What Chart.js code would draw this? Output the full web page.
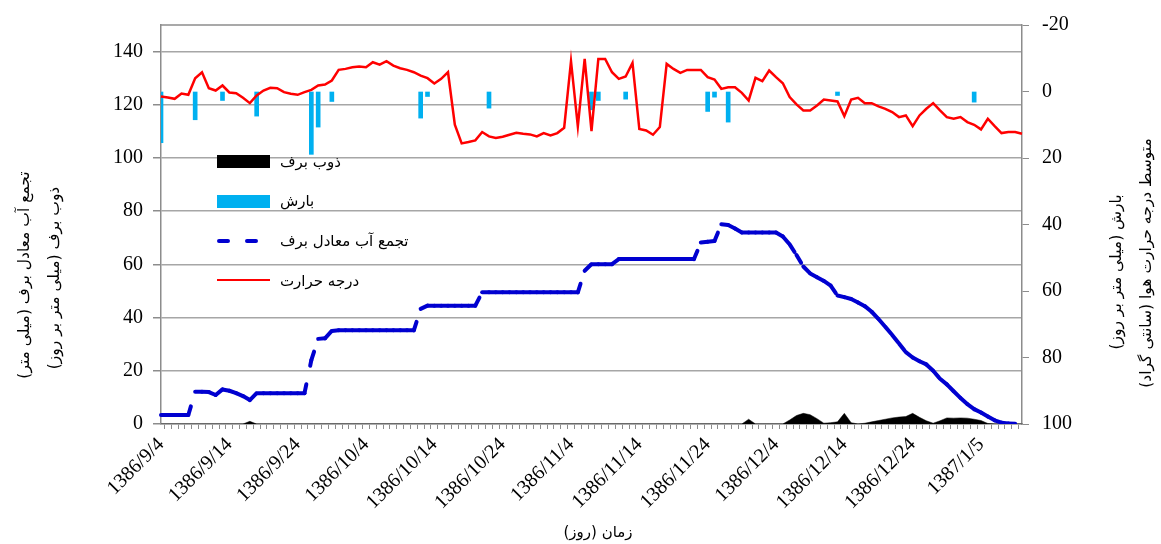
<!DOCTYPE html>
<html><head><meta charset="utf-8">
<script src="https://cdn.jsdelivr.net/npm/chart.js@4.4.0/dist/chart.umd.min.js"></script>
<style>html,body{margin:0;padding:0;background:#fff;}#wrap{width:1161px;height:544px;position:relative;}canvas{display:block;}</style>
</head><body><div id="wrap"><canvas id="c" width="1161" height="544" style="width:1161px;height:544px"></canvas></div>
<script>
const dates = [
'1386/9/4','1386/9/5','1386/9/6','1386/9/7','1386/9/8','1386/9/9','1386/9/10','1386/9/11','1386/9/12','1386/9/13','1386/9/14','1386/9/15','1386/9/16','1386/9/17','1386/9/18','1386/9/19','1386/9/20','1386/9/21','1386/9/22','1386/9/23','1386/9/24','1386/9/25','1386/9/26','1386/9/27','1386/9/28','1386/9/29','1386/9/30',
'1386/10/1','1386/10/2','1386/10/3','1386/10/4','1386/10/5','1386/10/6','1386/10/7','1386/10/8','1386/10/9','1386/10/10','1386/10/11','1386/10/12','1386/10/13','1386/10/14','1386/10/15','1386/10/16','1386/10/17','1386/10/18','1386/10/19','1386/10/20','1386/10/21','1386/10/22','1386/10/23','1386/10/24','1386/10/25','1386/10/26','1386/10/27','1386/10/28','1386/10/29','1386/10/30',
'1386/11/1','1386/11/2','1386/11/3','1386/11/4','1386/11/5','1386/11/6','1386/11/7','1386/11/8','1386/11/9','1386/11/10','1386/11/11','1386/11/12','1386/11/13','1386/11/14','1386/11/15','1386/11/16','1386/11/17','1386/11/18','1386/11/19','1386/11/20','1386/11/21','1386/11/22','1386/11/23','1386/11/24','1386/11/25','1386/11/26','1386/11/27','1386/11/28','1386/11/29','1386/11/30',
'1386/12/1','1386/12/2','1386/12/3','1386/12/4','1386/12/5','1386/12/6','1386/12/7','1386/12/8','1386/12/9','1386/12/10','1386/12/11','1386/12/12','1386/12/13','1386/12/14','1386/12/15','1386/12/16','1386/12/17','1386/12/18','1386/12/19','1386/12/20','1386/12/21','1386/12/22','1386/12/23','1386/12/24','1386/12/25','1386/12/26','1386/12/27','1386/12/28','1386/12/29',
'1387/1/1','1387/1/2','1387/1/3','1387/1/4','1387/1/5','1387/1/6','1387/1/7','1387/1/8','1387/1/9','1387/1/10','1387/1/11'];
const tickLabels = ['1386/9/4','1386/9/14','1386/9/24','1386/10/4','1386/10/14','1386/10/24','1386/11/4','1386/11/14','1386/11/24','1386/12/4','1386/12/14','1386/12/24','1387/1/5'];

// تجمع آب معادل برف (mm) - left axis
const sweCumulative = [
3.4,3.4,3.4,3.4,3.4,
12.1,12.1,12.0,10.9,13.0,12.5,11.6,10.5,9.0,11.6,
11.6,11.6,11.6,11.6,11.6,11.6,11.6,
24,32,32.2,35.0,
35.2,35.2,35.2,35.2,35.2,35.2,35.2,35.2,35.2,35.2,35.2,35.2,
43.3,44.5,44.5,44.5,44.5,44.5,44.5,44.5,44.5,
49.5,49.5,49.5,49.5,49.5,49.5,49.5,49.5,49.5,49.5,49.5,49.5,49.5,49.5,49.5,
57.6,60.1,60.1,60.1,60.1,
62,62,62,62,62,62,62,62,62,62,62,62,
68.2,68.5,68.8,75.1,74.8,73.5,
72,72,72,72,72,72,
70.5,67.5,63.5,59.2,56.6,55.2,53.8,52.0,48.3,47.7,47.0,45.7,44.3,42.2,39.5,36.5,33.5,30.3,27.0,25.0,23.6,22.4,20.0,17.0,14.9,12.3,9.8,7.5,5.6,4.3,2.8,1.4,0.5,0.2,0.1];

// ذوب برف (mm/day) - left axis
const snowmelt = [
0,0,0,0,0,0,0,0,0,0,0,0,0,1.0,0,0,0,0,0,0,
0,0,0,0,0,0,0,0,0,0,0,0,0,0,0,0,0,0,0,0,
0,0,0,0,0,0,0,0,0,0,0,0,0,0,0,0,0,0,0,0,
0,0,0,0,0,0,0,0,0,0,0,0,0,0,0,0,0,0,0,0,
0,0,0,0,0,0,1.8,0,0,0,0,0,1.5,3.2,4.0,3.5,2.0,0.3,0.5,0.8,
4.0,0.5,0,0.3,0.8,1.3,1.8,2.3,2.6,2.8,4.0,2.5,1.2,0.3,1.2,2.3,2.2,2.3,2.2,1.8,
1.3,0.2,0,0,0,0,0];

// بارش (mm/day) - right axis
const precipitation = [
15.4,null,null,null,null,8.5,null,null,null,2.7,null,null,null,null,7.4,null,null,null,null,null,
null,null,18.9,10.7,null,3.0,null,null,null,null,null,null,null,null,null,null,null,null,8.0,1.5,
null,null,null,null,null,null,null,null,5.0,null,null,null,null,null,null,null,null,null,null,null,
null,null,null,5.5,2.7,null,null,null,2.3,null,null,null,null,null,null,null,null,null,null,null,
6.0,1.7,null,9.2,null,null,null,null,null,null,null,null,null,null,null,null,null,null,null,1.2,
null,null,null,null,null,null,null,null,null,null,null,null,null,null,null,null,null,null,null,3.2,
null,null,null,null,null,null,null];

// درجه حرارت (°C) - right axis (reversed)
const temperature = [
1.5,1.8,2.2,0.6,1.0,-4.0,-5.8,-1.0,-0.3,-1.8,0.3,0.5,1.9,3.5,1.2,-0.3,-1.1,-1.0,0.2,0.7,
1.0,0.2,-0.5,-1.8,-2.1,-3.3,-6.5,-6.8,-7.3,-7.5,-7.3,-8.8,-8.1,-9.1,-7.8,-7.0,-6.5,-5.8,-4.8,-4.0,
-2.4,-3.8,-5.8,10.0,15.6,15.2,14.7,12.2,13.5,14.0,13.6,13.0,12.4,12.7,12.9,13.5,12.5,13.2,12.5,10.9,
-9.1,10.5,-9.8,11.9,-9.8,-9.8,-5.8,-3.8,-4.5,-8.6,11.3,11.7,13.0,10.7,-8.3,-6.8,-5.6,-6.5,-6.5,-6.5,
-4.3,-3.6,-0.8,-1.3,-1.3,0.4,2.7,-4.1,-3.1,-6.3,-4.3,-2.5,1.7,3.9,5.7,5.7,4.2,2.4,2.7,3.0,
7.4,2.4,1.9,3.5,3.5,4.5,5.2,6.2,7.7,7.2,10.4,7.2,5.2,3.5,5.7,7.7,8.2,7.7,9.2,10.0,
11.4,8.2,10.4,12.5,12.2,12.2,12.7];

const leftTicks = [0,20,40,60,80,100,120,140];
const rightTicks = [-20,0,20,40,60,80,100];

const seriesNames = ['ذوب برف','بارش','تجمع آب معادل برف','درجه حرارت'];
const leftTitles = ['تجمع آب معادل برف (میلی متر)','ذوب برف (میلی متر بر روز)'];
const rightTitles = ['بارش (میلی متر بر روز)','متوسط درجه حرارت هوا (سانتی گراد)'];
const xTitle = 'زمان (روز)';

const SERIF = "'Liberation Serif','Times New Roman',serif";
const FA = "'DejaVu Sans',sans-serif";
const AXIS = '#8c8c8c';

const decor = {
  id: 'decor',
  afterDraw(chart) {
    const {ctx, chartArea: a} = chart;
    ctx.save();
    ctx.strokeStyle = AXIS; ctx.lineWidth = 1.5;
    ctx.beginPath(); ctx.moveTo(a.left, a.top); ctx.lineTo(a.right, a.top); ctx.stroke();
    // legend
    const lx = a.left + 56, lw = 53, tx = a.left + 119;
    ctx.fillStyle = '#000'; ctx.fillRect(lx, a.top + 130, lw, 13);
    ctx.fillStyle = '#00b0f0'; ctx.fillRect(lx, a.top + 170, lw, 13);
    ctx.strokeStyle = '#0000d0'; ctx.lineWidth = 4; ctx.lineCap = 'round'; ctx.setLineDash([9, 19]);
    ctx.beginPath(); ctx.moveTo(lx + 2, a.top + 216); ctx.lineTo(lx + lw, a.top + 216); ctx.stroke();
    ctx.setLineDash([]); ctx.lineCap = 'butt';
    ctx.strokeStyle = '#ff0000'; ctx.lineWidth = 2;
    ctx.beginPath(); ctx.moveTo(lx, a.top + 255); ctx.lineTo(lx + lw, a.top + 255); ctx.stroke();
    ctx.fillStyle = '#000'; ctx.font = '15px ' + FA; ctx.textAlign = 'left'; ctx.textBaseline = 'middle';
    const ly = [138, 177, 217, 257];
    seriesNames.forEach((n, i) => ctx.fillText(n, tx, a.top + ly[i]));
    // axis titles
    ctx.font = '15.5px ' + FA; ctx.textAlign = 'center';
    const rot = (t, x, y) => { ctx.save(); ctx.translate(x, y); ctx.rotate(-Math.PI / 2); ctx.fillText(t, 0, 0); ctx.restore(); };
    rot(leftTitles[0], 25, 275);
    rot(leftTitles[1], 55, 278);
    rot(rightTitles[0], 1117, 272);
    rot(rightTitles[1], 1147, 263);
    ctx.font = '15px ' + FA;
    ctx.fillText(xTitle, 598, 533);
    ctx.restore();
  }
};

new Chart(document.getElementById('c'), {
  data: {
    labels: dates,
    datasets: [
      {type: 'line', label: seriesNames[3], data: temperature, yAxisID: 'yR', borderColor: '#ff0000', borderWidth: 2.5, pointRadius: 0, tension: 0, order: 1},
      {type: 'line', label: seriesNames[2], data: sweCumulative, yAxisID: 'yL', borderColor: '#0000d0', borderWidth: 4, pointRadius: 0, tension: 0,
        borderDash: [9, 19], borderCapStyle: 'round', borderJoinStyle: 'round',
        segment: {borderDashOffset: c => (c.p0DataIndex % 2) * 0.001}, order: 2},
      {type: 'bar', label: seriesNames[1], data: precipitation, yAxisID: 'yR', backgroundColor: '#00b0f0', barThickness: 4, order: 3},
      {type: 'line', label: seriesNames[0], data: snowmelt, yAxisID: 'yL', fill: 'origin', backgroundColor: '#000', borderColor: '#000', borderWidth: 0.5, pointRadius: 0, tension: 0, order: 4}
    ]
  },
  options: {
    responsive: false, maintainAspectRatio: false, animation: false, devicePixelRatio: 1,
    layout: {padding: {top: 22, left: 0, right: 0, bottom: 0}},
    plugins: {legend: {display: false}, tooltip: {enabled: false}},
    scales: {
      x: {type: 'category', offset: false,
        grid: {drawOnChartArea: false, drawTicks: true, tickLength: 5, color: AXIS},
        border: {color: AXIS, width: 1.5},
        ticks: {autoSkip: false, minRotation: 45, maxRotation: 45, padding: 4, color: '#000',
          font: {family: SERIF, size: 20},
          callback: (v, i) => tickLabels.includes(dates[i]) ? dates[i] : ''},
        afterFit: s => { s.height = 120; }},
      yL: {type: 'linear', position: 'left', min: 0, max: 150,
        afterBuildTicks: s => { s.ticks = leftTicks.map(v => ({value: v})); },
        ticks: {color: '#000', font: {family: SERIF, size: 20}, padding: 10},
        grid: {color: '#a6a6a6', lineWidth: 1.5, tickLength: 8, tickColor: AXIS},
        border: {color: AXIS, width: 1.5},
        afterFit: s => { s.width = 161; }},
      yR: {type: 'linear', position: 'right', reverse: true, min: -20, max: 100,
        afterBuildTicks: s => { s.ticks = rightTicks.map(v => ({value: v})); },
        ticks: {color: '#000', font: {family: SERIF, size: 20}, padding: 13},
        grid: {drawOnChartArea: false, tickLength: 7, color: AXIS},
        border: {color: AXIS, width: 1.5},
        afterFit: s => { s.width = 139; }}
    }
  },
  plugins: [decor]
});
</script></body></html>
